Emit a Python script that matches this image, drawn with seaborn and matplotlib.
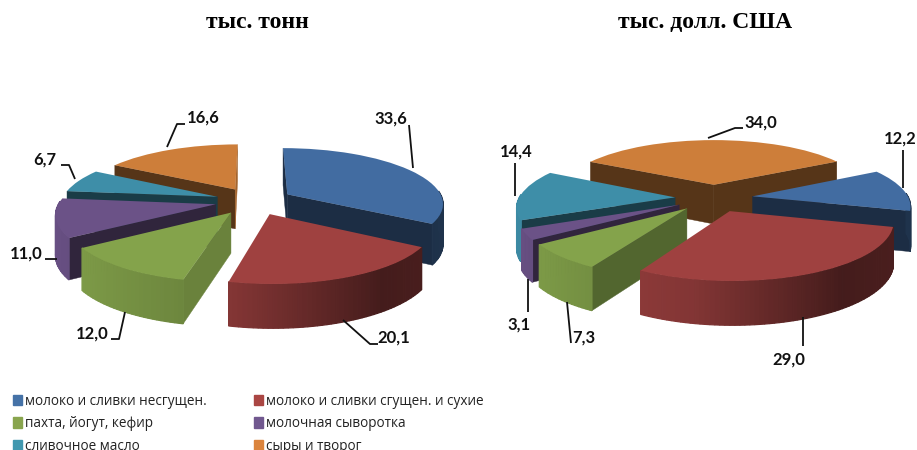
import numpy as np
import matplotlib
matplotlib.use("Agg")
import matplotlib.pyplot as plt
import seaborn as sns
from matplotlib.patches import Patch
from matplotlib.transforms import Transform

categories = ["молоко и сливки несгущен.", "молоко и сливки сгущен. и сухие",
              "пахта, йогут, кефир", "молочная сыворотка",
              "сливочное масло", "сыры и творог"]
tons = [33.6, 20.1, 12.0, 11.0, 6.7, 16.6]
dollars = [12.2, 29.0, 7.3, 3.1, 14.4, 34.0]
colors = ["#426CA1", "#9F4140", "#84A34B", "#6B5287", "#3E8EA8", "#CD7E3A"]
legend_colors = ["#4572A7", "#AA4643", "#89A54E", "#71588F", "#4198AF", "#DB843D"]

sns.set_style("white")
plt.rcParams["font.family"] = ["Open Sans", "DejaVu Sans"]

A, B, DEPTH, PERSP = 156, 55, 40, 0.15


def project(x, y, z, cx, cy):
    s = 1 / (1 + PERSP * y)
    return cx + A * x * s, cy - B * y * s + DEPTH * z * np.sqrt(s)


class Tilt(Transform):
    input_dims = output_dims = 2

    def __init__(self, cx, cy):
        super().__init__()
        self.cx, self.cy = cx, cy

    def transform_non_affine(self, xy):
        xy = np.asarray(xy)
        px, py = project(xy[:, 0], xy[:, 1], 0, self.cx, self.cy)
        return np.column_stack([px, py])


def shade(c, f):
    return tuple(np.array(matplotlib.colors.to_rgb(c)) * f)


def radial_wall(ax, w, t, normal, c, cx, cy, z):
    nr = np.radians(normal)
    if np.sin(nr) > 0.1:
        return
    f = np.interp(np.cos(nr), [0.5, 0.87, 0.97], [0.42, 0.62, 0.8])
    x0, y0 = w.center
    x1 = x0 + np.cos(np.radians(t))
    y1 = y0 + np.sin(np.radians(t))
    p = [project(x0, y0, 0, cx, cy), project(x1, y1, 0, cx, cy),
         project(x1, y1, 1, cx, cy), project(x0, y0, 1, cx, cy)]
    ax.fill(*zip(*p), color=shade(c, f), lw=0.3, zorder=z)


def draw_pie(ax, values, start, cx, cy):
    wedges, _ = ax.pie(values, explode=[0.25] * len(values), startangle=start,
                       counterclock=False, colors=colors, normalize=True)
    order = np.argsort([w.center[1] for w in wedges])[::-1]
    for n, i in enumerate(order):
        w, c = wedges[i], colors[i]
        z = 10 + n * 4
        radial_wall(ax, w, w.theta2, w.theta2 + 90, c, cx, cy, z)
        radial_wall(ax, w, w.theta1, w.theta1 - 90, c, cx, cy, z)
        # outer wall, thin strips so the shading can run along it
        ts = np.arange(w.theta1, w.theta2 + 1.5, 1.5)
        ts[-1] = w.theta2
        for t0, t1 in zip(ts[:-1], ts[1:]):
            r0, r1 = np.radians([t0, t1])
            if np.sin((r0 + r1) / 2) > 0.05:
                continue
            f = np.interp(np.cos((r0 + r1) / 2), [-1, -0.2, 0.6, 1], [0.98, 0.82, 0.43, 0.47])
            x0, y0 = w.center[0] + np.cos(r0), w.center[1] + np.sin(r0)
            x1, y1 = w.center[0] + np.cos(r1), w.center[1] + np.sin(r1)
            p = [project(x0, y0, 0, cx, cy), project(x1, y1, 0, cx, cy),
                 project(x1, y1, 1, cx, cy), project(x0, y0, 1, cx, cy)]
            ax.fill(*zip(*p), color=shade(c, f), lw=0.9, zorder=z + 1)
        w.set_transform(Tilt(cx, cy) + ax.transData)
        w.set_zorder(z + 2)
        w.set_linewidth(0)


def value_label(ax, value, text_xy, leader):
    xs, ys = zip(*leader)
    ax.plot(xs, ys, color="#111111", lw=1.3, zorder=50, solid_capstyle="butt")
    ax.text(*text_xy, f"{value:.1f}".replace(".", ","), ha="center", va="center", family="Lato",
            fontsize=12, fontweight="bold", color="#111111", zorder=51)


fig = plt.figure(figsize=(9.17, 4.5), dpi=100)
ax = fig.add_axes([0, 0, 1, 1])
draw_pie(ax, tons, 90, 254, 201)
draw_pie(ax, dollars, 29, 714, 198)
ax.set_aspect("auto")
ax.set_xlim(0, 917)
ax.set_ylim(450, 0)
ax.axis("off")

left_text = [(391, 119), (394, 338), (92, 334), (26, 254), (45, 160), (203, 118)]
left_lines = [[(409, 125), (413, 168)], [(343, 320), (370, 344), (378, 344)],
              [(125, 312), (119, 339), (111, 339)], [(57, 259), (45, 259)],
              [(75, 179), (69, 165), (61, 165)], [(167, 147), (177, 124), (185, 124)]]
right_text = [(900, 139), (789, 360), (584, 338), (519, 325), (516, 152), (761, 123)]
right_lines = [[(903, 150), (903, 188)], [(803, 317), (803, 346)],
               [(567, 302), (571, 343)], [(528, 279), (528, 312)],
               [(515, 163), (515, 196)], [(708, 138), (735, 128), (743, 128)]]
for v, t, l in zip(tons, left_text, left_lines):
    value_label(ax, v, t, l)
for v, t, l in zip(dollars, right_text, right_lines):
    value_label(ax, v, t, l)

ax.text(257, 22, "тыс. тонн", ha="center", va="center", family="Liberation Serif",
        fontsize=17, fontweight="bold", color="black")
ax.text(705, 22, "тыс. долл. США", ha="center", va="center", family="Liberation Serif",
        fontsize=17, fontweight="bold", color="black")

order = [0, 2, 4, 1, 3, 5]
handles = [Patch(color=legend_colors[i], label=categories[i]) for i in order]
fig.legend(handles=handles, ncols=2, frameon=False, loc="upper left",
           bbox_to_anchor=(0.007, 0.14), bbox_transform=fig.transFigure,
           fontsize=9.8, handlelength=0.62, handleheight=0.8, handletextpad=0.25,
           labelspacing=0.55, columnspacing=3.5, borderpad=0, labelcolor="#222222")

fig.savefig("out.png", dpi=100)
